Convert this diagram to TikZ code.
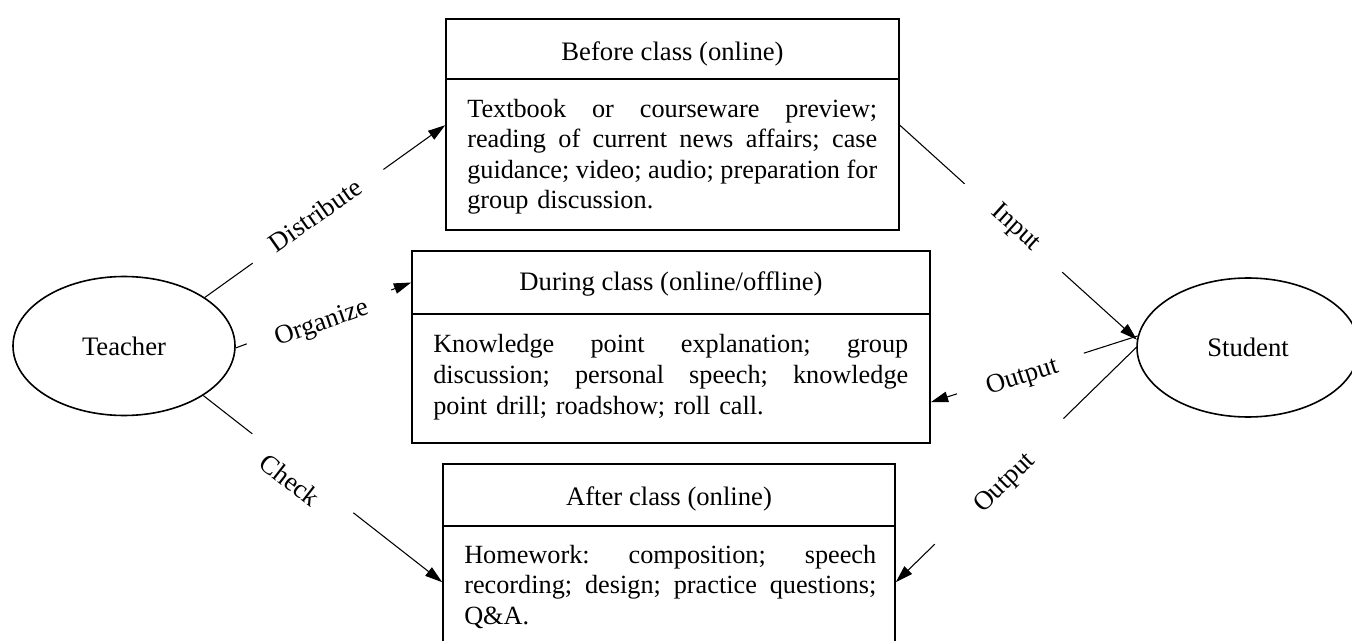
\documentclass[tikz,border=0pt]{standalone}
\usepackage{fontspec}
\setmainfont{Liberation Serif}
\usetikzlibrary{shapes.geometric,arrows.meta,calc}
\newcommand{\fl}[2]{{\spaceskip=0pt\xspaceskip=0pt\makebox[#1][s]{#2}}}
\begin{document}
\begin{tikzpicture}[x=0.75pt,y=-0.75pt,
  boxpart/.style={draw, line width=1.2pt, inner sep=0pt},
  role/.style={draw, ellipse, line width=1.2pt, inner sep=0pt, minimum width=166.5pt, minimum height=104.25pt, font=\fontsize{20}{22.9}\selectfont},
  conn/.style={line width=0.8pt},
  arr/.style={-{Triangle[length=13pt,width=8pt]}},
  lbl/.style={inner sep=0pt, font=\fontsize{20}{22.9}\selectfont},
  ttl/.style={anchor=base, inner sep=0pt, font=\fontsize{20}{22.9}\selectfont},
  bodytxt/.style={anchor=north west, inner sep=0pt, align=left, font=\fontsize{19.7}{22.9}\selectfont\frenchspacing}]
\useasboundingbox (0,0) rectangle (1352,641);
\clip (0,0) rectangle (1352,641);

% ellipses
\node[role] (T) at (124,346) {Teacher};
\node[role] (S) at (1248,347.5) {Student};

% box 1
\node[boxpart, minimum width=339.75pt, minimum height=45pt] (b1h) at (672.5,49) {};
\node[boxpart, minimum width=339.75pt, minimum height=113.25pt] (b1b) at (672.5,154.5) {};
\node[ttl] (b1t) at (672.5,61) {Before class (online)};
\node[bodytxt, text width=307.5pt] (b1x) at (467,95.7) {\rule{0pt}{16pt}\fl{307.5pt}{Textbook or courseware preview;}\\
\fl{307.5pt}{reading of current news affairs; case}\\
\fl{307.5pt}{guidance; video; audio; preparation for}\\
group discussion.};

% box 2
\node[boxpart, minimum width=388.5pt, minimum height=47.25pt] (b2h) at (671,282.5) {};
\node[boxpart, minimum width=388.5pt, minimum height=96.75pt] (b2b) at (671,378.5) {};
\node[ttl] (b2t) at (671,291) {During class (online/offline)};
\node[bodytxt, text width=356.25pt] (b2x) at (433,331.4) {\rule{0pt}{16pt}\fl{356.25pt}{Knowledge point explanation; group}\\
\fl{356.25pt}{discussion; personal speech; knowledge}\\
point drill; roadshow; roll call.};

% box 3
\node[boxpart, minimum width=339pt, minimum height=46.5pt] (b3h) at (669,495) {};
\node[boxpart, minimum width=339pt, minimum height=108pt] (b3b) at (669,598) {};
\node[ttl] (b3t) at (669,505) {After class (online)};
\node[bodytxt, text width=309pt] (b3x) at (464,541.4) {\rule{0pt}{16pt}\fl{309pt}{Homework: composition; speech}\\
\fl{309pt}{recording; design; practice questions;}\\
Q\&A.};

% connector end points on the boxes
\coordinate (B1in) at ($(b1b.north west)+(0,47)$);
\coordinate (B1out) at ($(b1b.north east)+(0,47)$);
\coordinate (B3in) at ($(b3b.north west)+(0,57)$);
\coordinate (B2out) at ($(b2b.north east)+(0,89)$);
\coordinate (B3out) at ($(b3b.north east)+(0,57)$);

% Distribute
\draw[conn] (T.31.5) -- ($(T.31.5)!0.199!(B1in)$);
\draw[conn,arr] ($(T.31.5)!0.743!(B1in)$) -- (B1in);
% Organize
\draw[conn] (T.-1) -- ($(T.-1)!0.0625!(b2h.west)$);
\draw[conn,arr] ($(T.-1)!0.886!(b2h.west)$) -- (b2h.west);
% Check
\draw[conn] (T.-32.5) -- ($(T.-32.5)!0.205!(B3in)$);
\draw[conn,arr] ($(T.-32.5)!0.628!(B3in)$) -- (B3in);
% Input
\draw[conn] (B1out) -- ($(B1out)!0.273!(S.176.6)$);
\draw[conn,arr] ($(B1out)!0.685!(S.176.6)$) -- (S.176.6);
% Output (during)
\draw[conn] (S.174.5) -- ($(S.174.5)!0.261!(B2out)$);
\draw[conn,arr] ($(S.174.5)!0.874!(B2out)$) -- (B2out);
% Output (after)
\draw[conn] (S.180) -- ($(S.180)!0.303!(B3out)$);
\draw[conn,arr] ($(S.180)!0.838!(B3out)$) -- (B3out);

% labels
\node[lbl, rotate=35.2] (l1) at (315,215) {Distribute};
\node[lbl, rotate=19] (l2) at (322,324) {Organize};
\node[lbl, rotate=-37.9] (l3) at (290,480) {Check};
\node[lbl, rotate=-42.1] (l4) at (1015.5,228) {Input};
\node[lbl, rotate=18] (l5) at (1022.5,377.5) {Output};
\node[lbl, rotate=44.4] (l6) at (1005.5,483.5) {Output};
\end{tikzpicture}
\end{document}
